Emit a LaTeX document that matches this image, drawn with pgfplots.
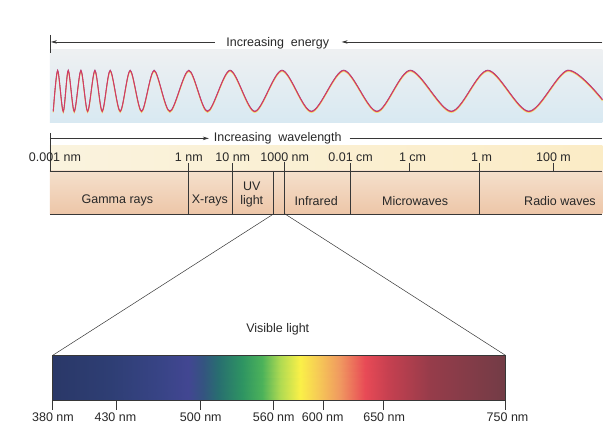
\documentclass[border=0pt]{standalone}
\usepackage{pgfplots}
\pgfplotsset{compat=1.18}
\usepackage{pgfplotstable}
\usepackage{fontspec}
\setmainfont{Liberation Sans}
\usetikzlibrary{arrows.meta}

\definecolor{ink}{RGB}{40,40,40}
\definecolor{rule}{RGB}{55,55,55}
\definecolor{wavered}{RGB}{214,58,98}
\definecolor{wavepur}{RGB}{150,70,140}
\definecolor{waveyel}{RGB}{242,222,110}
\definecolor{bandtopA}{RGB}{238,240,242}
\definecolor{bandtopB}{RGB}{216,233,242}
\definecolor{tickrowA}{RGB}{250,243,222}
\definecolor{tickrowB}{RGB}{251,236,198}
\definecolor{peachA}{RGB}{245,224,204}
\definecolor{peachB}{RGB}{237,198,168}

\newcommand\fs{\fontsize{12.5}{15}\selectfont}

% wave: troughs and crests (pixel units, y downwards)
\pgfplotstableread{
x y
53.3 111.7
57.7 70.7
63.3 111.7
68.3 70.7
74.3 111.7
81.0 70.7
87.7 111.7
95.0 70.7
102.3 111.7
110.3 70.7
120.3 111.7
130.3 70.7
141.7 111.7
154.3 70.7
170.0 111.7
189.0 70.7
207.7 111.7
230.3 70.7
255.0 111.7
282.3 70.7
311.7 111.7
344.0 70.7
377.3 111.7
410.7 70.7
451.7 111.7
488.3 70.7
529.3 111.7
568.3 70.7
603.0 100.0
}\wavedata

\begin{document}
\begin{tikzpicture}
\begin{axis}[
    width=603pt, height=428pt, scale only axis,
    xmin=0, xmax=603, ymin=0, ymax=428,
    y dir=reverse,
    hide axis, clip=false,
    no markers,
    point meta min=52.7, point meta max=506,
    colormap={spec}{
        rgb255(52.7pt)=(42,56,104)
        rgb255(110pt)=(46,62,116)
        rgb255(160pt)=(56,68,134)
        rgb255(188pt)=(66,70,146)
        rgb255(203pt)=(52,84,128)
        rgb255(218pt)=(40,110,112)
        rgb255(242pt)=(46,148,98)
        rgb255(262pt)=(76,178,90)
        rgb255(280pt)=(175,218,82)
        rgb255(300pt)=(250,240,72)
        rgb255(318pt)=(246,202,86)
        rgb255(340pt)=(240,152,96)
        rgb255(365pt)=(232,74,86)
        rgb255(388pt)=(198,64,80)
        rgb255(430pt)=(150,60,74)
        rgb255(506pt)=(114,60,70)
    },
]

% page background
\addplot[fill=white, draw=none] coordinates {(0,0) (603,0) (603,428) (0,428)} -- cycle;

% wave band
\addplot[draw=none, top color=bandtopA, bottom color=bandtopB]
    coordinates {(50,50) (603,50) (603,123) (50,123)} -- cycle;
% tick label row
\addplot[draw=none, left color=tickrowA, right color=tickrowB]
    coordinates {(50,146) (603,146) (603,171) (50,171)} -- cycle;
% region band
\addplot[draw=none, top color=peachA, bottom color=peachB]
    coordinates {(50,171) (603,171) (603,214) (50,214)} -- cycle;

% the wave, with the slight misregister of the print
\addplot[smooth, color=waveyel, line width=1.1pt, yshift=-0.8pt] table {\wavedata};
\addplot[smooth, color=wavepur, line width=0.8pt, yshift=0.5pt] table {\wavedata};
\addplot[smooth, color=wavered, line width=0.9pt] table {\wavedata};

% energy arrow
\addplot[color=rule, line width=0.6pt] coordinates {(50,35) (50,53)};
\addplot[color=rule, line width=0.6pt, -{Stealth[length=6pt,width=3.5pt]}]
    coordinates {(215,42) (51,42)};
\addplot[color=rule, line width=0.6pt, -{Stealth[length=6pt,width=3.5pt]}]
    coordinates {(603,42) (342,42)};

% wavelength arrow
\addplot[color=rule, line width=0.6pt] coordinates {(50,133) (50,171)};
\addplot[color=rule, line width=0.6pt, -{Stealth[length=6pt,width=3.5pt]}]
    coordinates {(50,138.5) (209,138.5)};
\addplot[color=rule, line width=0.6pt] coordinates {(350,138.5) (603,138.5)};

% band rules
\addplot[color=rule, line width=0.6pt] coordinates {(50,171) (603,171)};
\addplot[color=rule, line width=0.6pt] coordinates {(50,214) (603,214)};
% long separators
\addplot[color=rule, line width=0.6pt] coordinates {(188,163) (188,214)};
\addplot[color=rule, line width=0.6pt] coordinates {(233,163) (233,214)};
\addplot[color=rule, line width=0.6pt] coordinates {(285,162) (285,214)};
\addplot[color=rule, line width=0.6pt] coordinates {(351,163) (351,214)};
\addplot[color=rule, line width=0.6pt] coordinates {(480,163) (480,214)};
\addplot[color=rule, line width=0.6pt] coordinates {(274,171) (274,214)};
% short ticks
\addplot[color=rule, line width=0.6pt] coordinates {(410,163) (410,171)};
\addplot[color=rule, line width=0.6pt] coordinates {(554,163) (554,171)};

% zoom lines to visible band
\addplot[color=rule, line width=0.5pt] coordinates {(274,214) (52.7,355.7)};
\addplot[color=rule, line width=0.5pt] coordinates {(285,214) (506,355.7)};

% visible spectrum
\addplot[patch, patch type=rectangle, shader=interp, point meta=x]
    coordinates {(52.7,355.7) (506,355.7) (506,401) (52.7,401)};
\addplot[color=rule, line width=0.6pt] coordinates {(52.7,355.7) (506,355.7) (506,401) (52.7,401)} -- cycle;
\addplot[color=rule, line width=0.6pt] coordinates {(52.7,401) (52.7,410)};
\addplot[color=rule, line width=0.6pt] coordinates {(116,401) (116,410)};
\addplot[color=rule, line width=0.6pt] coordinates {(200.7,401) (200.7,410)};
\addplot[color=rule, line width=0.6pt] coordinates {(273.3,401) (273.3,410)};
\addplot[color=rule, line width=0.6pt] coordinates {(324,401) (324,410)};
\addplot[color=rule, line width=0.6pt] coordinates {(383.3,401) (383.3,410)};
\addplot[color=rule, line width=0.6pt] coordinates {(506,401) (506,410)};

% texts
\begin{scope}[every node/.style={font=\fs, text=ink, inner sep=0pt}]
\node at (axis cs:278,43) {Increasing\ \ energy};
\node at (axis cs:278,138) {Increasing\ \ wavelength};

\node at (axis cs:55,157) {0.001 nm};
\node at (axis cs:189,157) {1 nm};
\node at (axis cs:233,157) {10 nm};
\node at (axis cs:285,157) {1000 nm};
\node at (axis cs:351,157) {0.01 cm};
\node at (axis cs:413,157) {1 cm};
\node at (axis cs:482,157) {1 m};
\node at (axis cs:554,157) {100 m};

\node at (axis cs:117.5,201) {Gamma rays};
\node at (axis cs:210,201) {X-rays};
\node at (axis cs:252,186.5) {UV};
\node at (axis cs:252,201) {light};
\node at (axis cs:316.5,201) {Infrared};
\node at (axis cs:415.5,201) {Microwaves};
\node at (axis cs:560.5,201) {Radio waves};

\node at (axis cs:278,330) {Visible light};

\node at (axis cs:53,418) {380 nm};
\node at (axis cs:115.5,418) {430 nm};
\node at (axis cs:201,418) {500 nm};
\node at (axis cs:274,418) {560 nm};
\node at (axis cs:323,418) {600 nm};
\node at (axis cs:384.5,418) {650 nm};
\node at (axis cs:508,418) {750 nm};
\end{scope}

\end{axis}
\end{tikzpicture}
\end{document}
